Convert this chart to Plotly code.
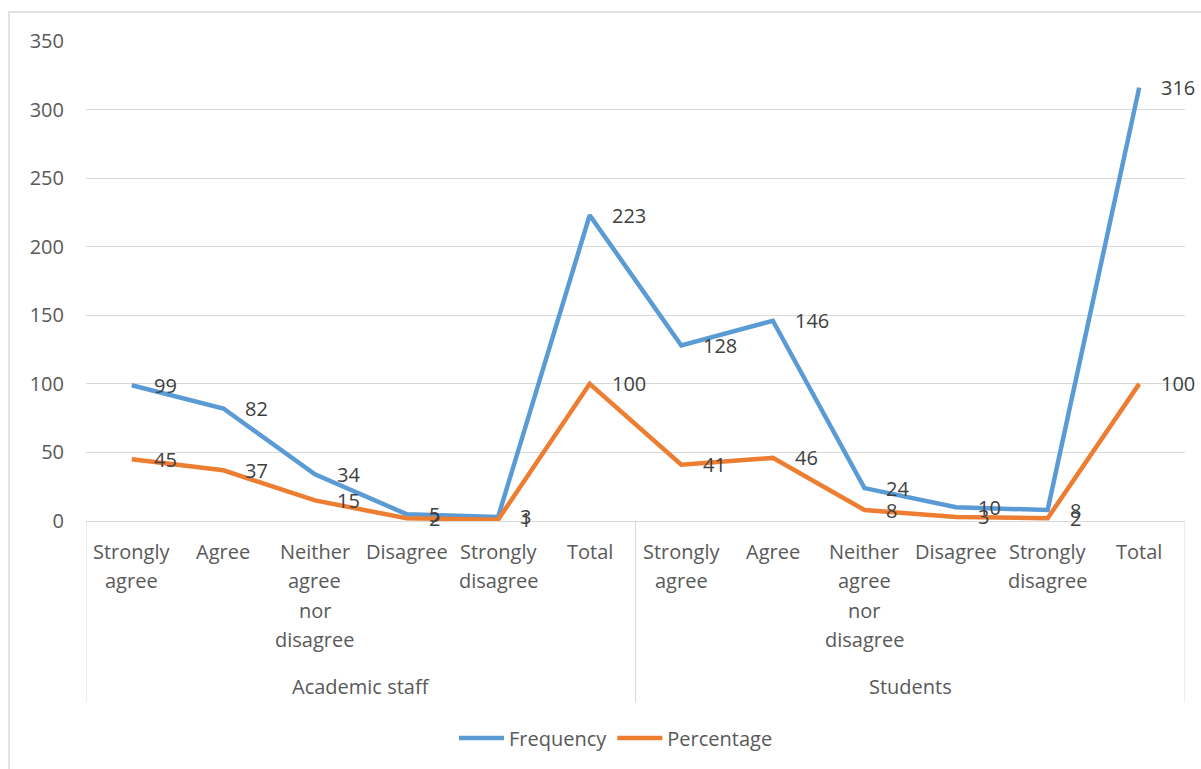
import plotly.graph_objects as go

categories = ["Strongly<br>agree", "Agree", "Neither<br>agree<br>nor<br>disagree", "Disagree",
              "Strongly<br>disagree", "Total"] * 2
groups = ["Academic staff", "Students"]
frequency = [99, 82, 34, 5, 3, 223, 128, 146, 24, 10, 8, 316]
percentage = [45, 37, 15, 2, 1, 100, 41, 46, 8, 3, 2, 100]
y_ticks = [0, 50, 100, 150, 200, 250, 300, 350]

FONT = "Open Sans"
FS = 20
TICK_COLOR = "#595959"
LABEL_COLOR = "#404040"

# plot-area geometry in page pixels
L, R, T, B = 86, 1185, 41, 521
W, H = 1201, 769
PH = B - T

def py(pix):
    return (B - pix) / PH

def px(pix):
    return (pix - L) / (R - L)

x = list(range(len(categories)))

fig = go.Figure()
fig.add_trace(go.Scatter(x=x, y=frequency, mode="lines", name="Frequency",
                         line=dict(color="#5B9BD5", width=4.5)))
fig.add_trace(go.Scatter(x=x, y=percentage, mode="lines", name="Percentage",
                         line=dict(color="#ED7D31", width=4.5)))

# data labels
for series in (frequency, percentage):
    for i, v in enumerate(series):
        fig.add_annotation(x=i, y=v, xref="x", yref="y", text=str(v), showarrow=False,
                           xanchor="left", yanchor="middle", xshift=20,
                           font=dict(family=FONT, size=FS, color=LABEL_COLOR))

# category labels (line by line)
for i, cat in enumerate(categories):
    for j, line in enumerate(cat.split("<br>")):
        fig.add_annotation(x=i, y=py(551 + j * 29.5), xref="x", yref="paper", text=line,
                           showarrow=False, xanchor="center", yanchor="middle",
                           font=dict(family=FONT, size=FS, color=TICK_COLOR))

# group labels
for g, name in enumerate(groups):
    fig.add_annotation(x=g * 6 + 2.5, y=py(686), xref="x", yref="paper", text=name,
                       showarrow=False, xanchor="center", yanchor="middle",
                       font=dict(family=FONT, size=FS, color=TICK_COLOR))

# group dividers
for xv in (-0.5, 5.5, 11.5):
    fig.add_shape(type="line", xref="x", yref="paper", x0=xv, x1=xv, y0=0, y1=py(702),
                  line=dict(color="#D9D9D9", width=1))

# chart border
fig.add_shape(type="rect", xref="paper", yref="paper", x0=px(9), x1=px(1215),
              y0=py(12), y1=py(790), line=dict(color="#D9D9D9", width=1.5))

fig.update_layout(
    width=W, height=H,
    margin=dict(l=L, r=W - R, t=T, b=H - B),
    plot_bgcolor="white", paper_bgcolor="white",
    font=dict(family=FONT, size=FS, color=TICK_COLOR),
    showlegend=True,
    legend=dict(orientation="h", x=px(616), y=py(738), xanchor="center", yanchor="middle",
                font=dict(family=FONT, size=FS, color=TICK_COLOR), itemwidth=45),
    xaxis=dict(range=[-0.5, 11.5], showticklabels=False, showgrid=False, zeroline=False,
               showline=False, ticks=""),
    yaxis=dict(range=[0, 350], tickvals=y_ticks, showgrid=True, gridcolor="#D9D9D9",
               gridwidth=1, zeroline=True, zerolinecolor="#D9D9D9", zerolinewidth=1,
               ticks="", ticklabelstandoff=21,
               tickfont=dict(family=FONT, size=FS, color=TICK_COLOR)),
)

fig.write_html("out.html", config={"displayModeBar": False},
               post_script="document.body.style.margin='0';document.body.style.overflow='hidden';")
